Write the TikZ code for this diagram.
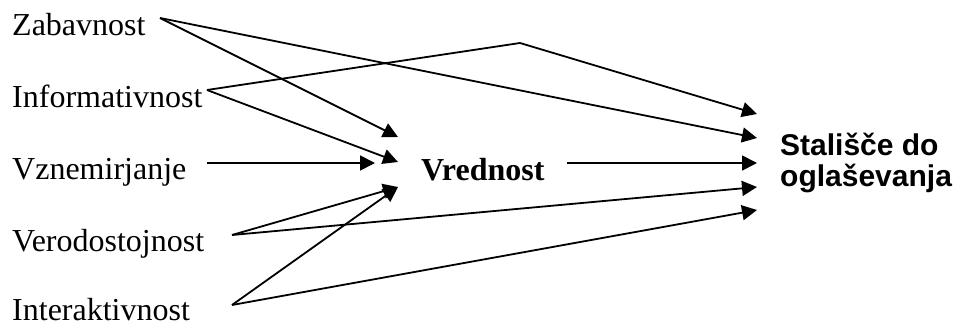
\documentclass[tikz,border=0pt]{standalone}
\usepackage{fontspec}
\setmainfont{Liberation Serif}
\newfontfamily\headsans{Liberation Sans}
\usetikzlibrary{arrows.meta}
\begin{document}
\begin{tikzpicture}[x=1pt,y=-1pt,
  factor/.style={anchor=base west,inner sep=0pt,font=\fontsize{32}{38}\selectfont},
  central/.style={anchor=base west,inner sep=0pt,font=\fontsize{32}{38}\selectfont\bfseries},
  outcome/.style={anchor=base west,inner sep=0pt,align=left,
    font=\headsans\bfseries\fontsize{30}{31}\selectfont},
  link/.style={line width=1.8pt,-{Triangle[length=15pt,width=15pt]}}]
\useasboundingbox (0,0) rectangle (962,324);

% factor labels
\node[factor] (zab) at (12,35) {Zabavnost};
\node[factor] (inf) at (12,107) {Informativnost};
\node[factor] (vzn) at (12,179) {Vznemirjanje};
\node[factor] (ver) at (12,251) {Verodostojnost};
\node[factor] (int) at (12,320) {Interaktivnost};

% mediator and outcome (base anchor sits on the last line)
\node[central] (vre) at (421,180) {Vrednost};
\node[outcome] (sta) at (780,186) {Stališče do\\oglaševanja};

% connector start points
\coordinate (zabS) at (160,18);
\coordinate (infS) at (207,90);
\coordinate (vznS) at (207,163);
\coordinate (verS) at (232,235);
\coordinate (intS) at (232,305);
\coordinate (vreS) at (567,163);
\coordinate (bend) at (520,43);

% arrow tips in front of Vrednost
\coordinate (vA) at (398,137);
\coordinate (vB) at (398,162);
\coordinate (vC) at (375,163);
\coordinate (vD) at (398,187);

% arrow tips in front of the outcome
\coordinate (sA) at (757,114);
\coordinate (sB) at (757,138);
\coordinate (sC) at (757,163);
\coordinate (sD) at (757,187);
\coordinate (sE) at (757,210);

% paths into Vrednost
\draw[link] (zabS) -- (vA);
\draw[link] (infS) -- (vB);
\draw[link] (vznS) -- (vC);
\draw[link] (verS) -- (vD);
\draw[link] (intS) -- (vD);

% direct paths to the outcome
\draw[link] (infS) -- (bend) -- (sA);
\draw[link] (zabS) -- (sB);
\draw[link] (vreS) -- (sC);
\draw[link] (verS) -- (sD);
\draw[link] (intS) -- (sE);
\end{tikzpicture}
\end{document}
